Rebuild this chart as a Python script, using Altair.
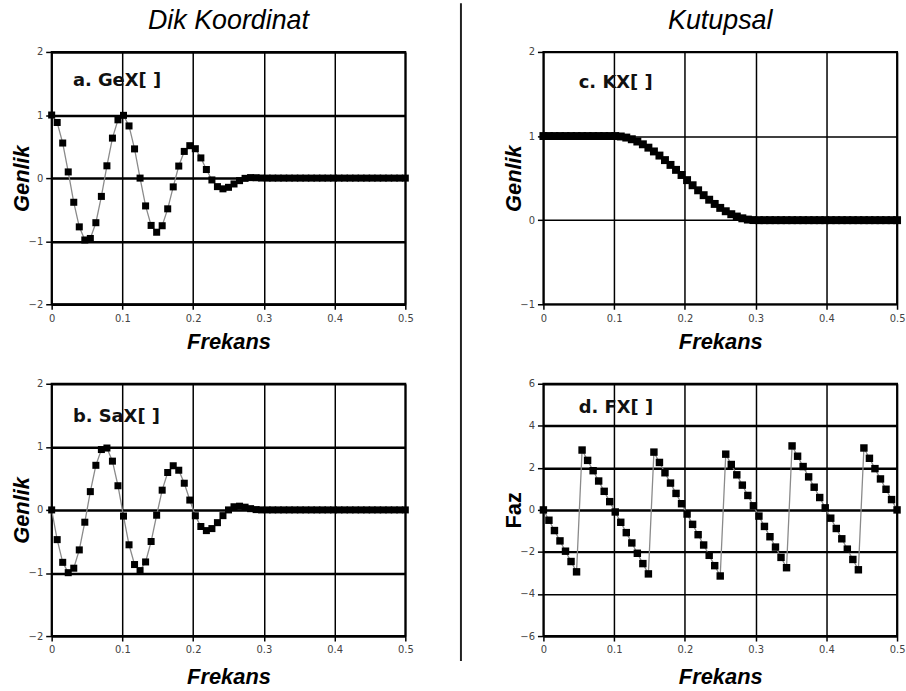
import altair as alt
import pandas as pd

# frequency grid: 65 samples, step 1/128, from 0 to 0.5
freq = [k / 128 for k in range(65)]

# a. real part
gex = [1.0, 0.882, 0.556, 0.098, -0.383, -0.773, -0.981, -0.957, -0.707, -0.290,
       0.195, 0.634, 0.924, 0.995, 0.827, 0.463, 0.0, -0.441, -0.750, -0.858,
       -0.755, -0.487, -0.139, 0.191, 0.423, 0.514, 0.466, 0.320, 0.136, -0.029,
       -0.135, -0.170, -0.146, -0.093, -0.040, -0.004, 0.008, 0.006, 0.001, 0.0,
       0.0, 0.0, 0.0, 0.0, 0.0, 0.0, 0.0, 0.0, 0.0, 0.0,
       0.0, 0.0, 0.0, 0.0, 0.0, 0.0, 0.0, 0.0, 0.0, 0.0,
       0.0, 0.0, 0.0, 0.0, 0.0]

# b. imaginary part
sax = [0.0, -0.471, -0.831, -0.995, -0.924, -0.634, -0.195, 0.290, 0.707, 0.957,
       0.981, 0.773, 0.383, -0.098, -0.553, -0.866, -0.962, -0.825, -0.501, -0.084,
       0.313, 0.593, 0.700, 0.629, 0.423, 0.156, -0.093, -0.263, -0.328, -0.296,
       -0.202, -0.091, 0.0, 0.050, 0.059, 0.043, 0.020, 0.005, 0.0, 0.0,
       0.0, 0.0, 0.0, 0.0, 0.0, 0.0, 0.0, 0.0, 0.0, 0.0,
       0.0, 0.0, 0.0, 0.0, 0.0, 0.0, 0.0, 0.0, 0.0, 0.0,
       0.0, 0.0, 0.0, 0.0, 0.0]

# c. magnitude
kx = [1.0, 1.0, 1.0, 1.0, 1.0, 1.0, 1.0, 1.0, 1.0, 1.0,
      1.0, 1.0, 1.0, 1.0, 0.995, 0.982, 0.962, 0.935, 0.902, 0.862,
      0.817, 0.768, 0.714, 0.657, 0.598, 0.537, 0.476, 0.415, 0.355, 0.297,
      0.243, 0.193, 0.146, 0.106, 0.071, 0.043, 0.022, 0.007, 0.001, 0.0,
      0.0, 0.0, 0.0, 0.0, 0.0, 0.0, 0.0, 0.0, 0.0, 0.0,
      0.0, 0.0, 0.0, 0.0, 0.0, 0.0, 0.0, 0.0, 0.0, 0.0,
      0.0, 0.0, 0.0, 0.0, 0.0]

# d. phase
fx = [0.0, -0.491, -0.982, -1.473, -1.963, -2.454, -2.945, 2.847, 2.356, 1.865,
      1.374, 0.884, 0.393, -0.098, -0.589, -1.080, -1.571, -2.062, -2.553, -3.043,
      2.749, 2.258, 1.767, 1.276, 0.785, 0.295, -0.196, -0.687, -1.178, -1.669,
      -2.160, -2.651, -3.142, 2.651, 2.160, 1.669, 1.178, 0.687, 0.196, -0.295,
      -0.785, -1.276, -1.767, -2.258, -2.749, 3.043, 2.553, 2.062, 1.571, 1.080,
      0.589, 0.098, -0.393, -0.884, -1.374, -1.865, -2.356, -2.847, 2.945, 2.454,
      1.963, 1.473, 0.982, 0.491, 0.0]

x_ticks = [0, 0.1, 0.2, 0.3, 0.4, 0.5]
amp_ticks = [-2, -1, 0, 1, 2]
mag_ticks = [-1, 0, 1, 2]
phase_ticks = [-6, -4, -2, 0, 2, 4, 6]

panel_labels = ["a. GeX[ ]", "b. SaX[ ]", "c. KX[ ]", "d. FX[ ]"]
label_x = [0.03, 0.03, 0.05, 0.05]
label_y = [1.54, 1.48, 1.63, 4.86]

W, H = 356, 254


def panel(values, ydomain, yticks, ytitle, ystyle, idx, sq, ygrid, title=None,
          xtitle_pad=9):
    df = pd.DataFrame({"f": freq, "v": values})
    xs = alt.Scale(domain=[0, 0.5], nice=False, zero=False)
    ys = alt.Scale(domain=ydomain, nice=False, zero=False)
    x = alt.X("f:Q", scale=xs, axis=alt.Axis(
        values=x_ticks, format="~g", title="Frekans", grid=True, gridColor="black",
        gridWidth=1.5, gridOpacity=1, domain=False, tickColor="black", tickWidth=1.5,
        tickSize=5, labelPadding=4, labelFont="DejaVu Sans", labelFontSize=10,
        labelColor="#444", labelFlush=False, titleFont="Liberation Sans",
        titleFontSize=22, titleFontStyle="italic", titleFontWeight="bold",
        titleColor="black", titlePadding=xtitle_pad))
    y = alt.Y("v:Q", scale=ys, axis=alt.Axis(
        values=yticks, format="~g", title=ytitle, grid=True, gridColor="black",
        gridWidth=ygrid, gridOpacity=1, domain=False, tickColor="black",
        tickWidth=1.5, tickSize=6, labelPadding=3, labelFont="DejaVu Sans",
        labelFontSize=10, labelColor="#444", labelFlush=False,
        titleFont="Liberation Sans", titleFontSize=22, titleFontStyle=ystyle,
        titleFontWeight="bold", titleColor="black", titlePadding=4,
        minExtent=14, maxExtent=14))
    line = alt.Chart(df).mark_line(color="#8a8a8a", strokeWidth=1.3).encode(x=x, y=y)
    pts = alt.Chart(df).mark_square(color="black", size=sq, opacity=1).encode(x=x, y=y)
    ldf = pd.DataFrame({"f": [label_x[idx]], "v": [label_y[idx]], "t": [panel_labels[idx]]})
    lab = alt.Chart(ldf).mark_text(align="left", baseline="middle", font="DejaVu Sans",
                                   fontWeight="bold", fontSize=18, color="#111").encode(
        x=x, y=y, text="t:N")
    props = dict(width=W, height=H)
    if title is not None:
        props["title"] = alt.TitleParams(title, font="Liberation Sans", fontSize=27,
                                         fontStyle="italic", fontWeight="normal",
                                         color="black", anchor="middle", offset=12)
    return alt.layer(line, pts, lab).properties(**props)


a = panel(gex, [-2, 2], amp_ticks, "Genlik", "italic", 0, 50, 2.5, "Dik Koordinat")
b = panel(sax, [-2, 2], amp_ticks, "Genlik", "italic", 1, 50, 2.5, xtitle_pad=12)
c = panel(kx, [-1, 2], mag_ticks, "Genlik", "italic", 2, 64, 1.5, "Kutupsal")
d = panel(fx, [-6, 6], phase_ticks, "Faz", "normal", 3, 56,
          {"condition": {"test": "datum.value == -4", "value": 1.5}, "value": 2.5},
          xtitle_pad=12)

divider = alt.Chart(pd.DataFrame({"d": [0]})).mark_rule(color="#222", strokeWidth=2).encode(
    x=alt.value(7), y=alt.value(-49), y2=alt.value(613)
).properties(width=1, height=560, view=alt.ViewBackground(stroke=None))

left = alt.vconcat(a, b, spacing=24)
right = alt.vconcat(c, d, spacing=24)

chart = alt.hconcat(left, divider, right, spacing=40).properties(
    padding={"left": 10, "top": 0, "right": 0, "bottom": 0}
).configure_view(stroke="black", strokeWidth=2)

chart.save("out.html", embed_options={"renderer": "svg", "actions": False})
